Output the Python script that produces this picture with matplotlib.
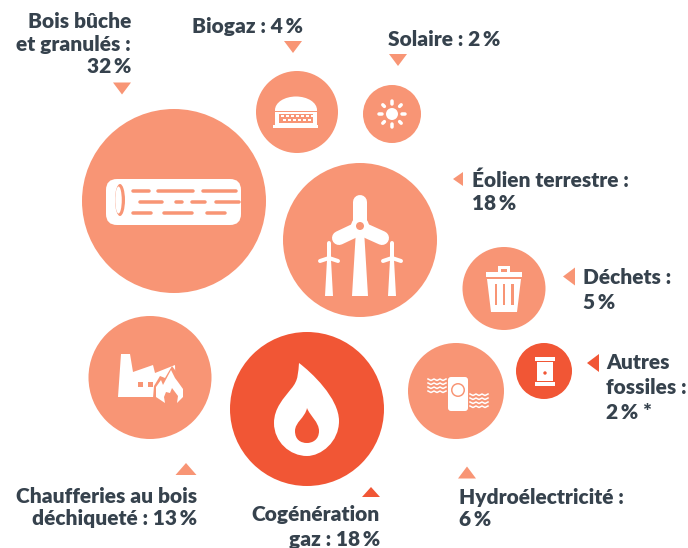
import matplotlib
matplotlib.use('Agg')
import matplotlib.pyplot as plt
from matplotlib.patches import Circle, Ellipse, FancyBboxPatch, Polygon, Rectangle, PathPatch
from matplotlib.path import Path

# shares in %
names = ['Bois bûche et granulés', 'Biogaz', 'Solaire', 'Éolien terrestre', 'Déchets',
         'Autres fossiles', 'Hydroélectricité', 'Cogénération gaz', 'Chaufferies au bois déchiqueté']
values = [32, 4, 2, 18, 5, 2, 6, 18, 13]

# layout in pixels of the image, same order as names
cx = [174, 297, 392, 360, 504, 544, 456, 307, 150]
cy = [201, 112, 114, 240, 288.5, 371, 391, 409, 377.5]
radius = [92, 41, 29, 77, 41.5, 28, 48, 77, 61.5]
fossil = [False, False, False, False, False, True, False, True, False]

LIGHT = '#f89575'
DARK = '#f15635'
TEXT = '#36424d'
SP = '\u2009'

fig = plt.figure(figsize=(6.88, 5.48), dpi=100)
ax = fig.add_axes([0, 0, 1, 1])
ax.set_xlim(0, 688)
ax.set_ylim(548, 0)
ax.axis('off')


def bar(x0, y0, x1, y1, w, color='white', z=4):
    # width given in pixels, 1px = 0.72pt at dpi 100
    ax.plot([x0, x1], [y0, y1], color=color, lw=w * 0.72, solid_capstyle='round', zorder=z)


def rect(x, y, w, h, color='white', z=3):
    ax.add_patch(Rectangle((x, y), w, h, fc=color, ec='none', zorder=z))


def waves(x0, y0, color='white'):
    # little zigzag rows of the hydro icon
    for r in range(4):
        xs = [x0 + k * 3 for k in range(7)]
        ys = [y0 + r * 4 + (k % 2) * 1.5 for k in range(7)]
        ax.plot(xs, ys, color=color, lw=1.1, zorder=4)


def arrow(x, y, d, color=LIGHT, w=9, h=6):
    # d: direction the triangle points to
    if d == 'down':
        pts = [(x - w, y - h), (x + w, y - h), (x, y + h)]
    elif d == 'up':
        pts = [(x - w, y + h), (x + w, y + h), (x, y - h)]
    else:
        pts = [(x + h, y - w), (x + h, y + w), (x - h, y)]
    ax.add_patch(Polygon(pts, fc=color, ec='none'))


def label(x, y, s, ha='left'):
    ax.text(x, y + 0.8, s, ha=ha, va='center', fontsize=15, color=TEXT,
            family=['Lato', 'DejaVu Sans'], fontweight='heavy')


for i in range(len(values)):
    ax.add_patch(Circle((cx[i], cy[i]), radius[i], fc=DARK if fossil[i] else LIGHT, ec='none', zorder=2))

# log
ax.add_patch(FancyBboxPatch((106, 179), 135, 46, boxstyle='round,pad=0,rounding_size=11', fc='white', ec='none', zorder=3))
ax.add_patch(Ellipse((120, 200), 10, 32, fc=LIGHT, ec='none', zorder=4))
ax.add_patch(Ellipse((118.5, 200), 6.5, 27, fc='white', ec='none', zorder=4))
for y, segs in [(190.7, [(133, 149), (158, 193), (203, 236)]),
                (202, [(140, 162), (176, 182), (192, 205), (216, 239)]),
                (213.3, [(133, 151), (164, 192), (207, 225)])]:
    for a, b in segs:
        bar(a, y, b, y, 3.5, LIGHT)

# biogas digester
ax.add_patch(Ellipse((296, 110), 42, 27, fc='white', ec='none', zorder=3))
rect(275, 110, 42, 15)
rect(273, 125, 45, 2.5)
rect(279, 113.5, 34, 9, LIGHT, 4)
for x in range(281, 312, 5):
    rect(x, 115, 3, 1.8, 'white', 5)
    rect(x + 1.5, 119, 3, 1.8, 'white', 5)
rect(275, 110.5, 42, 1, LIGHT, 4)

# sun
ax.add_patch(Circle((392, 114), 6, fc='white', ec='none', zorder=3))
for dx, dy in [(0, -11), (8, -8), (11, 0), (8, 8), (0, 11), (-8, 8), (-11, 0), (-8, -8)]:
    bar(392 + dx * 0.95, 114 + dy * 0.95, 392 + dx * 1.15, 114 + dy * 1.15, 3.5)

# wind turbines
ax.add_patch(Polygon([(356, 230), (364, 230), (368, 296), (352, 296)], fc='white', ec='none', zorder=3))
bar(360, 224, 360, 202, 14)
bar(358, 229, 339, 238, 14)
bar(362, 229, 382, 238, 14)
ax.add_patch(Circle((360, 226), 9, fc='white', ec='none', zorder=4))
ax.add_patch(Circle((360, 226), 4, fc=LIGHT, ec='none', zorder=5))
for x in (329, 392):
    ax.add_patch(Polygon([(x - 2, 260), (x + 2, 260), (x + 4, 296), (x - 4, 296)], fc='white', ec='none', zorder=3))
    bar(x, 258, x, 243, 4)
    bar(x, 258, x - 9, 261, 4)
    bar(x, 258, x + 9, 261, 4)

# bin
rect(486, 272, 36, 5)
rect(498, 266, 12, 6)
rect(501, 268.5, 6, 3.5, LIGHT, 4)
ax.add_patch(Polygon([(487, 279), (521, 279), (517, 312), (491, 312)], fc='white', ec='none', zorder=3))
for x in (494.5, 502.5, 511):
    rect(x, 284, 2.5, 21, LIGHT, 4)

# barrel
rect(535, 357, 20, 4)
rect(535, 382, 20, 4)
rect(537, 362, 16, 19)
ax.add_patch(Circle((545, 373), 1.7, fc=DARK, ec='none', zorder=4))

# hydro
ax.add_patch(FancyBboxPatch((448, 377), 20, 34, boxstyle='round,pad=0,rounding_size=3', fc='white', ec='none', zorder=3))
ax.add_patch(Circle((458, 390), 7, fc=LIGHT, ec='none', zorder=4))
ax.add_patch(Circle((458, 390), 5.5, fc='white', ec='none', zorder=4))
waves(428, 379)
waves(470, 394)

# factory with flame
ax.add_patch(Polygon([(121, 354), (130, 354), (133, 372), (153, 365), (155, 373), (175, 365),
                      (176, 397), (118, 397)], fc='white', ec='none', zorder=3))
rect(138, 382, 5, 5, LIGHT, 4)
rect(148, 382, 5, 5, LIGHT, 4)
halo = Path([(165, 405), (153, 398), (154, 386), (160, 376), (165, 378), (172, 366), (181, 378),
             (186, 388), (185, 398), (178, 405), (165, 405)],
            [1, 2, 2, 2, 2, 2, 2, 2, 2, 2, 79])
ax.add_patch(PathPatch(halo, fc=LIGHT, ec='none', zorder=4))
flame = Path([(165, 403), (156, 397), (156, 387), (161, 380), (163, 385), (171, 370), (175, 378),
              (178, 382), (183, 389), (183, 397), (177, 403), (178, 396), (172, 388), (170, 393),
              (166, 392), (164, 397), (165, 403)],
             [1, 2, 2, 2, 2, 2, 2, 2, 2, 2, 2, 2, 2, 2, 2, 2, 79])
ax.add_patch(PathPatch(flame, fc='white', ec='none', zorder=5))

# gas flame
drop = Path([(299, 363), (311, 372), (339, 398), (339, 421), (339, 442), (321, 456), (307, 456),
             (290, 456), (274, 442), (274, 423), (274, 408), (284, 398), (291, 389),
             (299, 380), (298, 372), (299, 363), (299, 363)],
            [1, 4, 4, 4, 4, 4, 4, 4, 4, 4, 4, 4, 4, 4, 4, 4, 79])
ax.add_patch(PathPatch(drop, fc='white', ec='none', zorder=3))
inner = Path([(307, 408), (310, 416), (319, 422), (319, 431), (319, 440), (312, 443), (307, 443),
              (301, 443), (295, 440), (295, 431), (295, 422), (305, 418), (307, 408), (307, 408)],
             [1, 4, 4, 4, 4, 4, 4, 4, 4, 4, 4, 4, 4, 79])
ax.add_patch(PathPatch(inner, fc=DARK, ec='none', zorder=4))

# arrows
arrow(122, 88.5, 'down')
arrow(293, 47, 'down')
arrow(398, 60, 'down')
arrow(458, 179, 'left', w=7, h=5)
arrow(569, 276.5, 'left')
arrow(593, 363, 'left', DARK)
arrow(186, 469, 'up', w=10.5)
arrow(371, 492, 'up', DARK, h=5)
arrow(467, 472.5, 'up')


def pct(i):
    return f'{values[i]}{SP}%'


# labels
label(131, 21, 'Bois bûche', 'right')
label(131, 44, 'et granulés :', 'right')
label(131, 66, pct(0), 'right')
label(192, 26, f'{names[1]} : {pct(1)}')
label(388, 39, f'{names[2]} : {pct(2)}')
label(472, 179, f'{names[3]} :')
label(472, 203, pct(3))
label(583, 277, f'{names[4]} :')
label(583, 302, pct(4))
label(606, 362, 'Autres')
label(606, 387, 'fossiles :')
label(606, 412, pct(5) + ' *')
label(459, 497, f'{names[6]} :')
label(459, 519, pct(6))
label(380, 514, 'Cogénération', 'right')
label(380, 539, f'gaz : {pct(7)}', 'right')
label(197, 496, 'Chaufferies au bois', 'right')
label(197, 518, f'déchiqueté : {pct(8)}', 'right')

fig.savefig('out.png', dpi=100, facecolor='white')
